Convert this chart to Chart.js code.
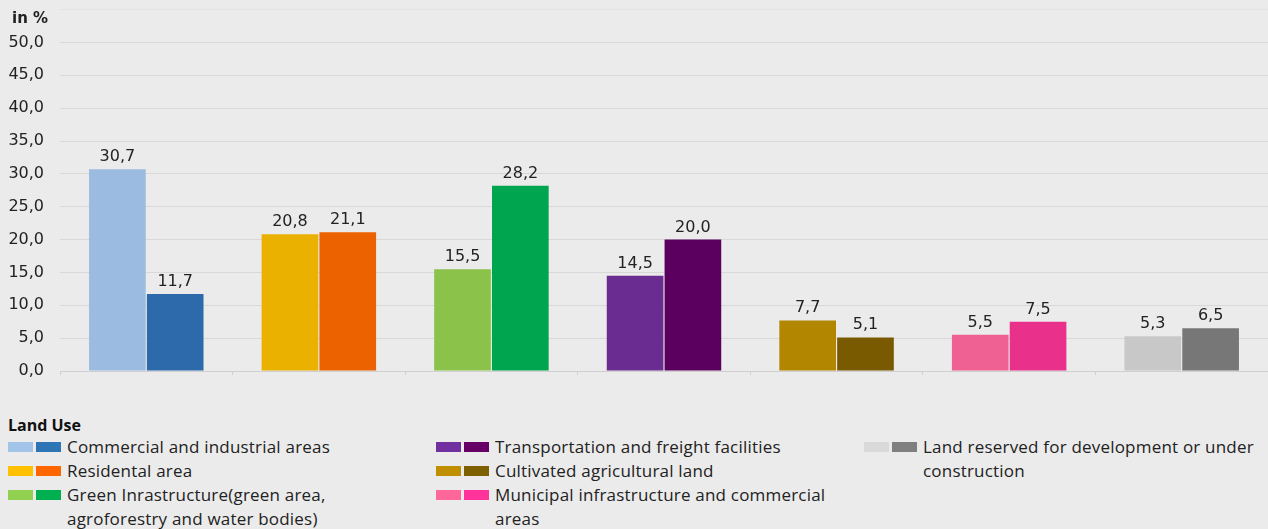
<!DOCTYPE html>
<html>
<head>
<meta charset="utf-8">
<script src="https://cdn.jsdelivr.net/npm/chart.js@4.4.1/dist/chart.umd.min.js"></script>
<style>
  html, body { margin: 0; padding: 0; background: #ebebeb; }
  #wrap { position: relative; width: 1268px; height: 529px; overflow: hidden; }
  #chartBox { position: absolute; left: 0; top: -16px; width: 1268px; height: 416px; }
  #unit { position: absolute; left: 12px; top: 9px; font: bold 15px "DejaVu Sans", sans-serif; color: #222; }
  #legendTitle { position: absolute; left: 8px; top: 414px; font: bold 16px "Open Sans", sans-serif; color: #111; }
  .lg { position: absolute; font: 17px "Open Sans", sans-serif; letter-spacing: 0.2px; color: #222; line-height: 24px; }
  .lg .sw { position: absolute; top: 7px; width: 25px; height: 10px; }
</style>
</head>
<body>
<div id="wrap">
  <div id="chartBox"><canvas id="landUseChart"></canvas></div>
  <div id="unit">in %</div>
  <div id="legendTitle">Land Use</div>
  <div id="legend"></div>
</div>
<script>
  // categories (legend text) and the two bar series
  const categories = [
    'Commercial and industrial areas',
    'Residental area',
    'Green Inrastructure(green area,\nagroforestry and water bodies)',
    'Transportation and freight facilities',
    'Cultivated agricultural land',
    'Municipal infrastructure and commercial\nareas',
    'Land reserved for development or under\nconstruction'
  ];
  const valuesFirst = [30.7, 20.8, 15.5, 14.5, 7.7, 5.5, 5.3];
  const valuesSecond = [11.7, 21.1, 28.2, 20.0, 5.1, 7.5, 6.5];
  const yTicks = [0, 5, 10, 15, 20, 25, 30, 35, 40, 45, 50];

  const colorsFirst = ['#9bbbe0', '#eab100', '#8bc34a', '#6a2c91', '#b38600', '#ef6193', '#c8c8c8'];
  const colorsSecond = ['#2d6aab', '#ec6200', '#00a54f', '#5c0060', '#7a5a00', '#e9308a', '#777777'];
  const legendFirst = ['#a2c4e8', '#ffc000', '#92d050', '#7030a0', '#bf8f00', '#ff6699', '#d9d9d9'];
  const legendSecond = ['#2e75b6', '#ff6600', '#00b050', '#660066', '#7f6000', '#ff3399', '#7f7f7f'];

  const fmt = v => v.toFixed(1).replace('.', ',');

  // value labels above bars
  const valueLabels = {
    id: 'valueLabels',
    afterDatasetsDraw(chart) {
      const ctx = chart.ctx;
      ctx.save();
      ctx.font = '16px "DejaVu Sans", sans-serif';
      ctx.fillStyle = '#222';
      ctx.textAlign = 'center';
      ctx.textBaseline = 'alphabetic';
      chart.data.datasets.forEach((ds, di) => {
        chart.getDatasetMeta(di).data.forEach((bar, i) => {
          ctx.fillText(fmt(ds.data[i]), bar.x, bar.y - 8);
        });
      });
      ctx.restore();
    }
  };

  new Chart(document.getElementById('landUseChart'), {
    type: 'bar',
    data: {
      labels: categories.map(c => c.replace('\n', ' ')),
      datasets: [
        { data: valuesFirst, backgroundColor: colorsFirst },
        { data: valuesSecond, backgroundColor: colorsSecond }
      ]
    },
    options: {
      responsive: true,
      maintainAspectRatio: false,
      animation: false,
      layout: { padding: { top: 9, bottom: 29, right: 0, left: 0 } },
      datasets: { bar: { categoryPercentage: 0.67, barPercentage: 0.98 } },
      plugins: { legend: { display: false }, tooltip: { enabled: false } },
      scales: {
        x: {
          offset: true,
          ticks: { display: false },
          grid: { drawOnChartArea: false, drawTicks: true, tickLength: 4, color: '#d0d0d0', offset: true },
          border: { display: true, color: '#cfcfcf' },
          afterFit: s => { s.height = 0; }
        },
        y: {
          min: 0,
          max: 55,
          afterBuildTicks: s => { s.ticks = yTicks.concat([55]).map(v => ({ value: v })); },
          ticks: {
            padding: 16,
            color: '#222',
            font: { family: 'DejaVu Sans', size: 16 },
            callback: v => v === 55 ? '' : fmt(v)
          },
          grid: {
            drawTicks: false,
            color: c => c.tick && c.tick.value === 55 ? '#e3e3e3' : '#d8d8d8'
          },
          border: { display: false },
          afterFit: s => { s.width = 60; }
        }
      }
    },
    plugins: [valueLabels]
  });

  // custom legend, three columns
  const legendCols = [
    { sw: 8, tx: 67, w: 360 },
    { sw: 436, tx: 495, w: 360 },
    { sw: 864, tx: 923, w: 340 }
  ];
  const legendRows = [[0, 0], [0, 1], [0, 2], [1, 0], [1, 1], [1, 2], [2, 0]];
  const legendEl = document.getElementById('legend');
  categories.forEach((name, i) => {
    const [col, row] = legendRows[i];
    const c = legendCols[col];
    const item = document.createElement('div');
    item.className = 'lg';
    item.style.left = c.sw + 'px';
    item.style.top = (435 + row * 24) + 'px';
    item.style.width = (c.tx - c.sw + c.w) + 'px';
    item.innerHTML =
      `<span class="sw" style="left:0;background:${legendFirst[i]}"></span>` +
      `<span class="sw" style="left:28px;background:${legendSecond[i]}"></span>` +
      `<div style="margin-left:${c.tx - c.sw}px">${name.replace('\n', '<br>')}</div>`;
    legendEl.appendChild(item);
  });
</script>
</body>
</html>
